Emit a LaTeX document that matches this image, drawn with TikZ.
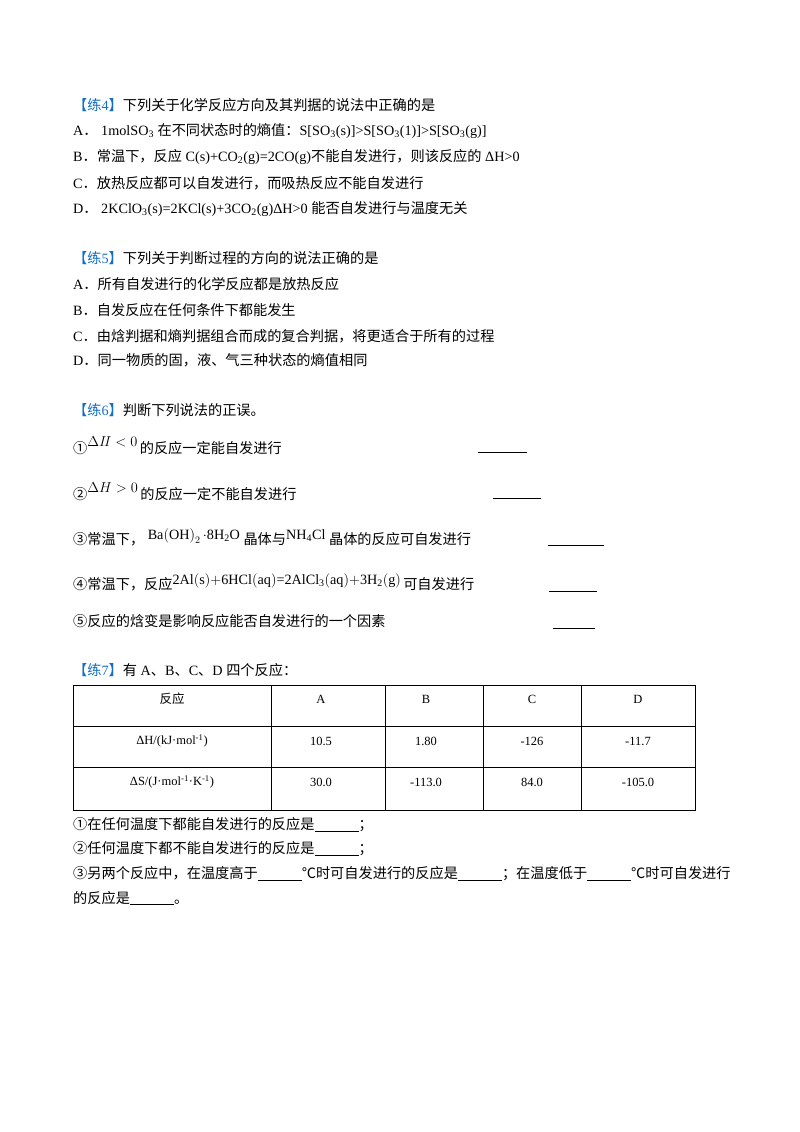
\documentclass[tikz,border=0pt]{standalone}
\usepackage{fontspec}
\setmainfont{Liberation Serif}
\newfontfamily\zhf{Noto Sans CJK SC}
\newcommand{\zh}[1]{{\zhf #1}}
\newcommand{\blnk}{\underline{\hspace{44pt}}}
\definecolor{lblue}{RGB}{20,110,200}
\begin{document}
\begin{tikzpicture}[x=1pt,y=-1pt,
  ln/.style={anchor=west,inner sep=0pt,font=\fontsize{14.2}{16}\selectfont},
  cell/.style={inner sep=0pt,font=\fontsize{12.5}{14}\selectfont},
  blank/.style={line width=0.6pt}]
\useasboundingbox (0,0) rectangle (800,1132);
\fill[white] (0,0) rectangle (800,1132);
% Q4
\node[ln] (q4) at (73,105) {\textcolor{lblue}{\zh{【练}4\zh{】}}\zh{下列关于化学反应方向及其判据的说法中正确的是}};
\node[ln] (q4a) at (73,131) {A\zh{．}\ 1molSO\textsubscript{3} \zh{在不同状态时的熵值：}S[SO\textsubscript{3}(s)]>S[SO\textsubscript{3}(1)]>S[SO\textsubscript{3}(g)]};
\node[ln] (q4b) at (73,157) {B\zh{．常温下，反应} C(s)+CO\textsubscript{2}(g)=2CO(g)\zh{不能自发进行，则该反应的} ΔH>0};
\node[ln] (q4c) at (73,183) {C\zh{．放热反应都可以自发进行，而吸热反应不能自发进行}};
\node[ln] (q4d) at (73,209) {D\zh{．}\ 2KClO\textsubscript{3}(s)=2KCl(s)+3CO\textsubscript{2}(g)ΔH>0 \zh{能否自发进行与温度无关}};
% Q5
\node[ln] (q5) at (73,258) {\textcolor{lblue}{\zh{【练}5\zh{】}}\zh{下列关于判断过程的方向的说法正确的是}};
\node[ln] (q5a) at (73,284) {A\zh{．所有自发进行的化学反应都是放热反应}};
\node[ln] (q5b) at (73,310) {B\zh{．自发反应在任何条件下都能发生}};
\node[ln] (q5c) at (73,336) {C\zh{．由焓判据和熵判据组合而成的复合判据，将更适合于所有的过程}};
\node[ln] (q5d) at (73,360) {D\zh{．同一物质的固，液、气三种状态的熵值相同}};
% Q6
\node[ln] (q6) at (73,410) {\textcolor{lblue}{\zh{【练}6\zh{】}}\zh{判断下列说法的正误。}};
\node[ln] (s1) at (73,446) {\zh{①}\raisebox{7pt}{$\Delta I\!I<0$}\,\zh{的反应一定能自发进行}};
\node[ln] (s2) at (73,492) {\zh{②}\raisebox{7pt}{$\Delta H>0$}\,\zh{的反应一定不能自发进行}};
\node[ln] (s3) at (73,537) {\zh{③常温下，}\raisebox{5pt}{\ Ba$\left(\mathrm{OH}\right)_2\cdot$8H\textsubscript{2}O}\ \zh{晶体与}\raisebox{5pt}{NH\textsubscript{4}Cl}\ \zh{晶体的反应可自发进行}};
\node[ln] (s4) at (73,582) {\zh{④常温下，反应}\raisebox{5pt}{2Al$(\mathrm{s})+$6HCl$(\mathrm{aq})$=2AlCl\textsubscript{3}$(\mathrm{aq})+$3H\textsubscript{2}$(\mathrm{g})$}\,\zh{可自发进行}};
\node[ln] (s5) at (73,621) {\zh{⑤反应的焓变是影响反应能否自发进行的一个因素}};
\coordinate (b1a) at (478,452); \coordinate (b1b) at (527,452);
\coordinate (b2a) at (493,498); \coordinate (b2b) at (541,498);
\coordinate (b3a) at (548,545); \coordinate (b3b) at (604,545);
\coordinate (b4a) at (549,591); \coordinate (b4b) at (597,591);
\coordinate (b5a) at (553,628); \coordinate (b5b) at (595,628);
\foreach \i in {1,...,5} \draw[blank] (b\i a) -- (b\i b);
% Q7
\node[ln] (q7) at (73,670) {\textcolor{lblue}{\zh{【练}7\zh{】}}\zh{有} A\zh{、}B\zh{、}C\zh{、}D \zh{四个反应：}};
\draw[line width=0.8pt] (73,685) rectangle (695,810);
\foreach \y in {726,767} \draw[line width=0.8pt] (73,\y) -- (695,\y);
\foreach \x in {271,385,483,581} \draw[line width=0.8pt] (\x,685) -- (\x,810);
\node[cell] (h0) at (172,699) {\zh{反应}};
\node[cell] (h1) at (321,699) {A};
\node[cell] (h2) at (426,699) {B};
\node[cell] (h3) at (532,699) {C};
\node[cell] (h4) at (638,699) {D};
\node[cell] (r10) at (172,741) {ΔH/(kJ·mol\textsuperscript{-1})};
\node[cell] (r11) at (321,741) {10.5};
\node[cell] (r12) at (426,741) {1.80};
\node[cell] (r13) at (532,741) {-126};
\node[cell] (r14) at (638,741) {-11.7};
\node[cell] (r20) at (172,782) {ΔS/(J·mol\textsuperscript{-1}·K\textsuperscript{-1})};
\node[cell] (r21) at (321,782) {30.0};
\node[cell] (r22) at (426,782) {-113.0};
\node[cell] (r23) at (532,782) {84.0};
\node[cell] (r24) at (638,782) {-105.0};
\node[ln] (p1) at (73,825) {\zh{①在任何温度下都能自发进行的反应是\blnk；}};
\node[ln] (p2) at (73,849) {\zh{②任何温度下都不能自发进行的反应是\blnk；}};
\node[ln] (p3) at (73,874) {\zh{③另两个反应中，在温度高于\blnk℃时可自发进行的反应是\blnk；在温度低于\blnk℃时可自发进行}};
\node[ln] (p4) at (73,898) {\zh{的反应是\blnk。}};
\end{tikzpicture}
\end{document}
